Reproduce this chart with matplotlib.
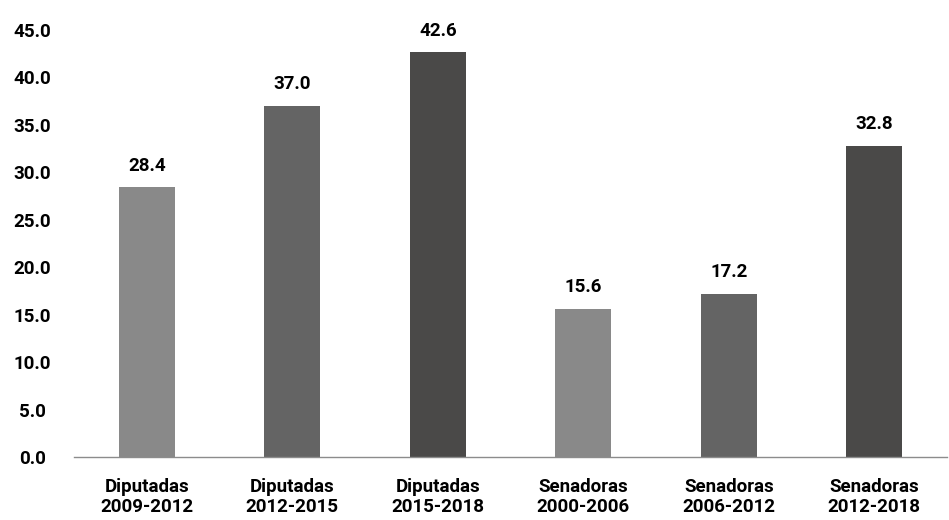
import matplotlib.pyplot as plt
import numpy as np

categories = ["Diputadas\n2009-2012", "Diputadas\n2012-2015", "Diputadas\n2015-2018",
              "Senadoras\n2000-2006", "Senadoras\n2006-2012", "Senadoras\n2012-2018"]
values = [28.4, 37.0, 42.6, 15.6, 17.2, 32.8]
colors = ["#898989", "#646464", "#4a4948", "#898989", "#646464", "#4a4948"]
yticks = np.arange(0, 50, 5)

plt.rcParams["font.family"] = ["Roboto", "DejaVu Sans"]
fs = 13.5

fig = plt.figure(figsize=(9.49, 5.2), dpi=100)
ax = fig.add_axes([0.078, 0.121, 0.92, 0.822])

x = np.arange(len(categories))
bars = ax.bar(x, values, width=0.385, color=colors)

for b, v in zip(bars, values):
    ax.annotate(f"{v:.1f}", (b.get_x() + b.get_width() / 2, v),
                xytext=(0, 9), textcoords="offset points",
                ha="center", va="bottom", fontsize=fs, fontweight="bold")

ax.set_xlim(-0.5, len(categories) - 0.5)
ax.set_ylim(0, 45)
ax.set_yticks(yticks)
ax.set_yticklabels([f"{t:.1f}" for t in yticks], fontsize=fs, fontweight="bold")
ax.set_xticks(x)
ax.set_xticklabels(categories, fontsize=fs, fontweight="bold", linespacing=1.15)
ax.tick_params(axis="both", length=0)
ax.tick_params(axis="x", pad=15)
ax.tick_params(axis="y", pad=30)
for lbl in ax.get_yticklabels():
    lbl.set_horizontalalignment("center")
for s in ["top", "right", "left"]:
    ax.spines[s].set_visible(False)
ax.spines["bottom"].set_color("#8c8c8c")
ax.spines["bottom"].set_linewidth(1)

fig.savefig("out.png", dpi=100)
